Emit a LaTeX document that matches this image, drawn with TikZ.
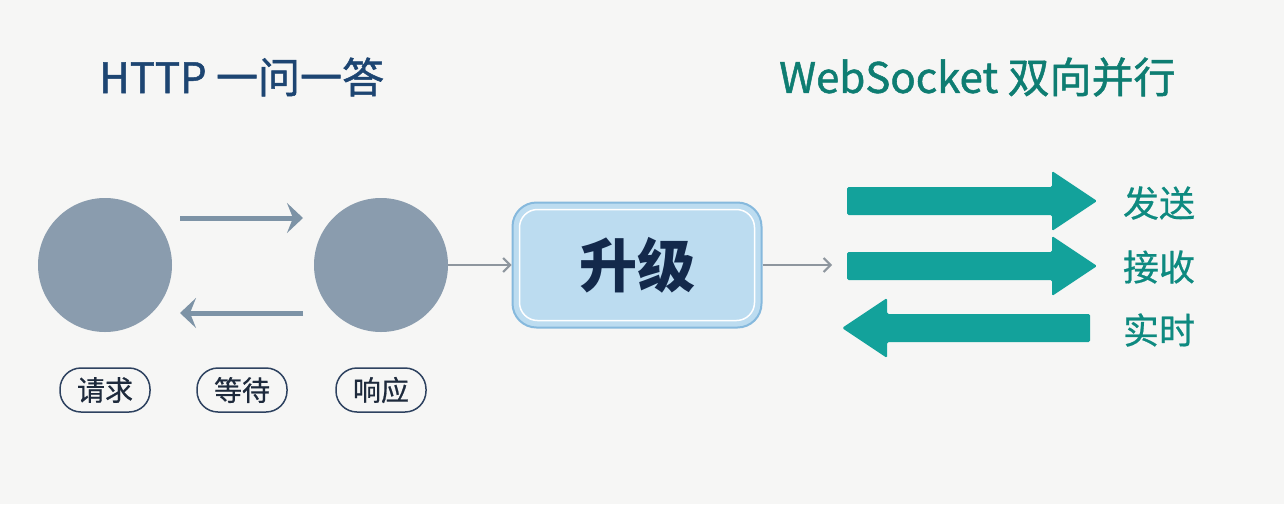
\documentclass[tikz,border=0pt]{standalone}
\usepackage{fontspec}
\setmainfont{Noto Sans CJK SC}
\newfontfamily\titlefont{Noto Sans CJK SC}[FakeBold=1.2]
\newfontfamily\medfont{Noto Sans CJK SC}[FakeBold=0.6]
\usetikzlibrary{arrows.meta,calc}
\definecolor{bg}{HTML}{F6F6F5}
\definecolor{navy}{HTML}{1D4572}
\definecolor{tealtitle}{HTML}{0E7D72}
\definecolor{circ}{HTML}{8A9CAE}
\definecolor{garrow}{HTML}{7D93A6}
\definecolor{conn}{HTML}{8E969E}
\definecolor{boxfill}{HTML}{BCDCF0}
\definecolor{boxline}{HTML}{86B9DD}
\definecolor{boxtext}{HTML}{13294B}
\definecolor{tealarrow}{HTML}{13A29B}
\definecolor{teallab}{HTML}{0E8A80}
\definecolor{pill}{HTML}{2E4260}
\definecolor{pilltext}{HTML}{1E2A3C}
\tikzset{
  title/.style={anchor=west, font=\titlefont\fontsize{42}{46}\selectfont, inner sep=0},
  bigcirc/.style={circle, fill=circ, minimum size=134pt, inner sep=0},
  grayarrow/.style={draw=garrow, line width=5pt, -{Stealth[length=16pt,width=30pt,inset=6pt]}},
  connector/.style={draw=conn, line width=2pt, -{Straight Barb[length=7pt,width=14pt]}},
  pilllab/.style={draw=pill, line width=1.5pt, rounded corners=21pt, minimum width=90pt, minimum height=44pt, inner sep=0, text=pilltext, font=\medfont\fontsize{28}{32}\selectfont},
  upbox/.style={draw=boxline, fill=boxfill, line width=2pt, rounded corners=24pt, minimum width=249pt, minimum height=125pt, inner sep=0, text=boxtext, font=\fontsize{58}{62}\selectfont\bfseries},
  tlab/.style={text=teallab, font=\medfont\fontsize{36}{40}\selectfont, inner sep=0},
  tarrow/.style={fill=tealarrow, rounded corners=1.5pt}
}
\begin{document}
\begin{tikzpicture}[x=1pt,y=-1pt]
\fill[bg] (0,0) rectangle (1284,504);
\useasboundingbox (0,0) rectangle (1284,504);

\node[title, text=navy] (t1) at (99,77) {HTTP 一问一答};
\node[title, text=tealtitle] (t2) at (779,77) {WebSocket 双向并行};

\node[bigcirc] (c1) at (105,265) {};
\node[bigcirc] (c2) at (381,265) {};

\coordinate (a1s) at (180,218); \coordinate (a1e) at (303,218);
\coordinate (a2s) at (303,313); \coordinate (a2e) at (180,313);
\draw[grayarrow] (a1s) -- (a1e);
\draw[grayarrow] (a2s) -- (a2e);

\node[pilllab] (p1) at (105,390) {请求};
\node[pilllab] (p2) at (242,390) {等待};
\node[pilllab] (p3) at (381,390) {响应};

\node[upbox] (up) at (637,265) {升级};
\draw[white, line width=1.5pt, rounded corners=18pt] ($(up.north west)+(8,8)$) rectangle ($(up.south east)+(-8,-8)$);

\draw[connector] (c2.east) -- (up.west);
\coordinate (ue) at (832,265);
\draw[connector] (up.east) -- (ue);

\fill[tarrow] (847,187) -- (1052,187) -- (1052,171) -- (1097,201) -- (1052,231) -- (1052,215) -- (847,215) -- cycle;
\fill[tarrow] (847,252) -- (1052,252) -- (1052,236) -- (1097,266) -- (1052,296) -- (1052,280) -- (847,280) -- cycle;
\fill[tarrow] (1090,314) -- (887,314) -- (887,298) -- (842,328) -- (887,358) -- (887,342) -- (1090,342) -- cycle;

\node[tlab] (l1) at (1159,203) {发送};
\node[tlab] (l2) at (1159,267) {接收};
\node[tlab] (l3) at (1159,330) {实时};
\end{tikzpicture}
\end{document}
